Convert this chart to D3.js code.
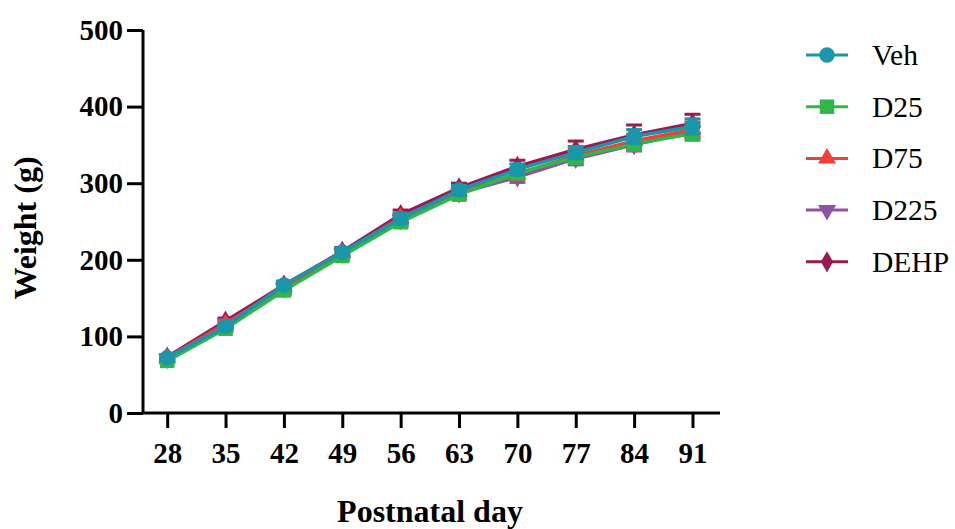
<!DOCTYPE html>
<html><head><meta charset="utf-8">
<script src="https://cdn.jsdelivr.net/npm/d3@7"></script>
<style>body{margin:0;background:#fff}svg{display:block} text{font-family:"Liberation Serif","Times New Roman",serif}</style>
</head><body>
<svg id="c" width="955" height="529"></svg>
<script>
const days = [28,35,42,49,56,63,70,77,84,91];
const seriesNames = ["Veh","D25","D75","D225","DEHP"];
const vehValues  = [72,113,167,210,254,291,318,340,361,374];
const d25Values  = [68,110,160,205,249,285,313,334,351,365];
const d75Values  = [72,116,165,209,255,289,312,336,355,370];
const d225Values = [71,117,163,208,252,287,308,332,350,368];
const dehpValues = [73,120,167,211,259,294,322,344,363,378];
const vehErr  = [3,4,5,5,6,6,7,8,9,10];
const d25Err  = [3,4,5,5,6,6,7,8,8,9];
const d75Err  = [3,4,5,5,6,6,7,8,9,10];
const d225Err = [3,4,5,5,6,6,7,8,8,9];
const dehpErr = [3,4,5,5,6,6,8,11,13,12];
const yTicks = [0,100,200,300,400,500];
const colors = ["#1a96aa","#2fb84a","#f0403c","#8f52a1","#9a1a52"];
const symbols = [d3.symbolCircle,d3.symbolSquare,d3.symbolTriangle,"tri-down",d3.symbolDiamond];
const sizes = [190,210,140,140,130];

const series = seriesNames.map((n,i)=>({name:n,color:colors[i],sym:symbols[i],size:sizes[i],
  vals:[vehValues,d25Values,d75Values,d225Values,dehpValues][i],
  errs:[vehErr,d25Err,d75Err,d225Err,dehpErr][i]}));

const svg = d3.select("#c");
const x = d3.scaleLinear().domain([25.1,94.3]).range([143,720]);
const y = d3.scaleLinear().domain([0,500]).range([413,30]);
const font = "Liberation Serif";

function symPath(s,size){
  if(s==="tri-down") return d3.symbol(d3.symbolTriangle,size)();
  return d3.symbol(s,size)();
}
function symTransform(s,px,py){
  return s==="tri-down" ? `translate(${px},${py}) rotate(180)` : `translate(${px},${py})`;
}

const plot = svg.append("g");
const line = d3.line().x((d,i)=>x(days[i])).y(d=>y(d));
[...series].reverse().forEach(s=>{
  const g = plot.append("g");
  s.vals.forEach((v,i)=>{
    const cx = x(days[i]);
    g.append("line").attr("x1",cx).attr("x2",cx).attr("y1",y(v-s.errs[i])).attr("y2",y(v+s.errs[i]))
      .attr("stroke",s.color).attr("stroke-width",2);
    [v-s.errs[i],v+s.errs[i]].forEach(e=>g.append("line").attr("x1",cx-8).attr("x2",cx+8)
      .attr("y1",y(e)).attr("y2",y(e)).attr("stroke",s.color).attr("stroke-width",3));
  });
  g.append("path").datum(s.vals).attr("d",line).attr("fill","none").attr("stroke",s.color).attr("stroke-width",3.5);
  g.selectAll("path.m").data(s.vals).enter().append("path").attr("class","m")
    .attr("d",symPath(s.sym,s.size)).attr("transform",(d,i)=>symTransform(s.sym,x(days[i]),y(d)))
    .attr("fill",s.color);
});

const yAxis = d3.axisLeft(y).tickValues(yTicks).tickSize(16).tickPadding(4).tickSizeOuter(0);
const gy = svg.append("g").attr("transform","translate(143,0)").call(yAxis);
const xAxis = d3.axisBottom(x).tickValues(days).tickSize(15).tickSizeOuter(0);
const gx = svg.append("g").attr("transform","translate(0,413)").call(xAxis);
[gx,gy].forEach(g=>{
  g.attr("font-family",null).attr("font-size",null);
  g.select(".domain").attr("stroke","#000").attr("stroke-width",3);
  g.selectAll(".tick line").attr("stroke","#000").attr("stroke-width",3);
  g.selectAll(".tick text").attr("fill","#000").attr("font-family",font).attr("font-weight","bold").attr("font-size",29);
});
gx.selectAll(".tick text").attr("y",50).attr("dy",null);
gy.select(".domain").attr("d","M0,413V30");
gx.select(".domain").attr("d","M143,0H720");

svg.append("text").attr("x",430).attr("y",522).attr("text-anchor","middle").attr("font-family",font)
  .attr("font-weight","bold").attr("font-size",32).text("Postnatal day");
svg.append("text").attr("transform","translate(36,228) rotate(-90)").attr("text-anchor","middle").attr("font-family",font)
  .attr("font-weight","bold").attr("font-size",32).text("Weight (g)");

const lg = svg.append("g");
series.forEach((s,i)=>{
  const ly = 55 + i*51.7;
  lg.append("line").attr("x1",806).attr("x2",848).attr("y1",ly).attr("y2",ly).attr("stroke",s.color).attr("stroke-width",3);
  lg.append("path").attr("d",symPath(s.sym,s.size)).attr("transform",symTransform(s.sym,827,ly)).attr("fill",s.color);
  lg.append("text").attr("x",872).attr("y",ly+10).attr("font-family",font).attr("font-size",29.5).attr("fill","#000").text(s.name);
});
</script>
</body></html>
